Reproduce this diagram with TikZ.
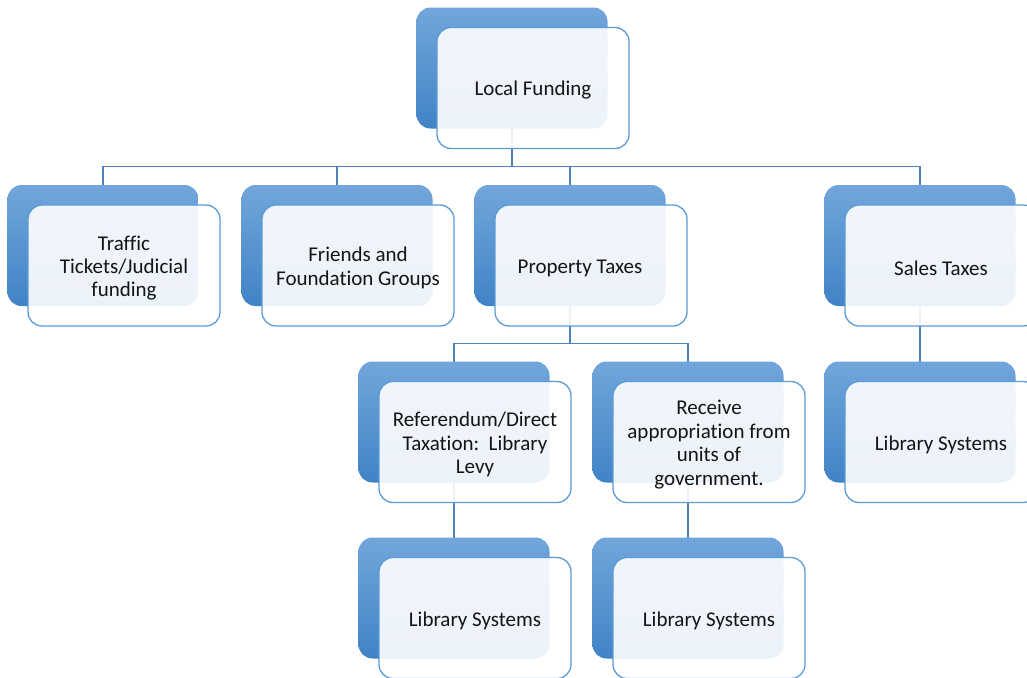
\documentclass[tikz,border=0pt]{standalone}
\usepackage{fontspec}
\setmainfont{Carlito}[Ligatures={NoCommon}]
\usetikzlibrary{calc}
\pgfdeclarelayer{background}
\pgfsetlayers{background,main}
\definecolor{linkblue}{RGB}{79,129,189}
\definecolor{frontline}{RGB}{91,155,213}
\definecolor{backtop}{RGB}{114,166,219}
\definecolor{backmid}{RGB}{86,152,218}
\definecolor{backbot}{RGB}{64,131,198}
\definecolor{txt}{RGB}{20,20,20}
\tikzset{
  backbox/.style={draw=none, rounded corners=7pt, top color=backtop, middle color=backmid, bottom color=backbot,
    minimum width=95.5pt, minimum height=60.5pt, inner sep=0pt, outer sep=0pt},
  frontbox/.style={draw=frontline, line width=0.65pt, fill=white, fill opacity=0.9,
    rounded corners=7pt, minimum width=96pt, minimum height=60.5pt, inner sep=0pt, outer sep=0pt},
  boxtext/.style={inner sep=0pt, align=center, text=txt, font=\fontsize{10.5}{11.7}\selectfont},
  link/.style={draw=linkblue, line width=0.75pt}
}
\newcommand\tierbox[5][0]{%
  \node[backbox] (#2b) at (#3,#4) {};
  \node[frontbox] (#2) at (#3+21,#4+20) {};
  \node[boxtext] (#2t) at (#3+21+#1,#4+22.5) {#5};
}
\begin{document}
\begin{tikzpicture}[x=0.5pt,y=-0.5pt]
\useasboundingbox (0,0) rectangle (1027,677);
\clip (0,0) rectangle (1027,677);
\tierbox{lf}{512}{68}{Local Funding}
\tierbox{tt}{103}{245.5}{Traffic\\Tickets/Judicial\\funding}
\tierbox{fr}{337}{245.5}{Friends and\\Foundation Groups}
\tierbox[-11]{pt}{570}{245.5}{Property Taxes}
\tierbox{st}{920}{245.5}{Sales Taxes}
\tierbox{rd}{454}{422}{Referendum/Direct\\Taxation:\ \ Library\\Levy}
\tierbox{rc}{688}{422}{Receive\\appropriation from\\units of\\government.}
\tierbox{sl}{920}{422}{Library Systems}
\tierbox{rl}{454}{598}{Library Systems}
\tierbox{cl}{688}{598}{Library Systems}
\coordinate (busa) at (0,166.5);
\coordinate (busb) at (0,343.5);
\begin{pgfonlayer}{background}
\foreach \c in {tt,fr,pt,st}{
  \draw[link] (lfb.south) -- (lfb.south |- busa) -| (\c b.north);
}
\foreach \c in {rd,rc}{
  \draw[link] (ptb.south) -- (ptb.south |- busb) -| (\c b.north);
}
\draw[link] (stb.south) -- (slb.north);
\draw[link] (rdb.south) -- (rlb.north);
\draw[link] (rcb.south) -- (clb.north);
\end{pgfonlayer}
\end{tikzpicture}
\end{document}
